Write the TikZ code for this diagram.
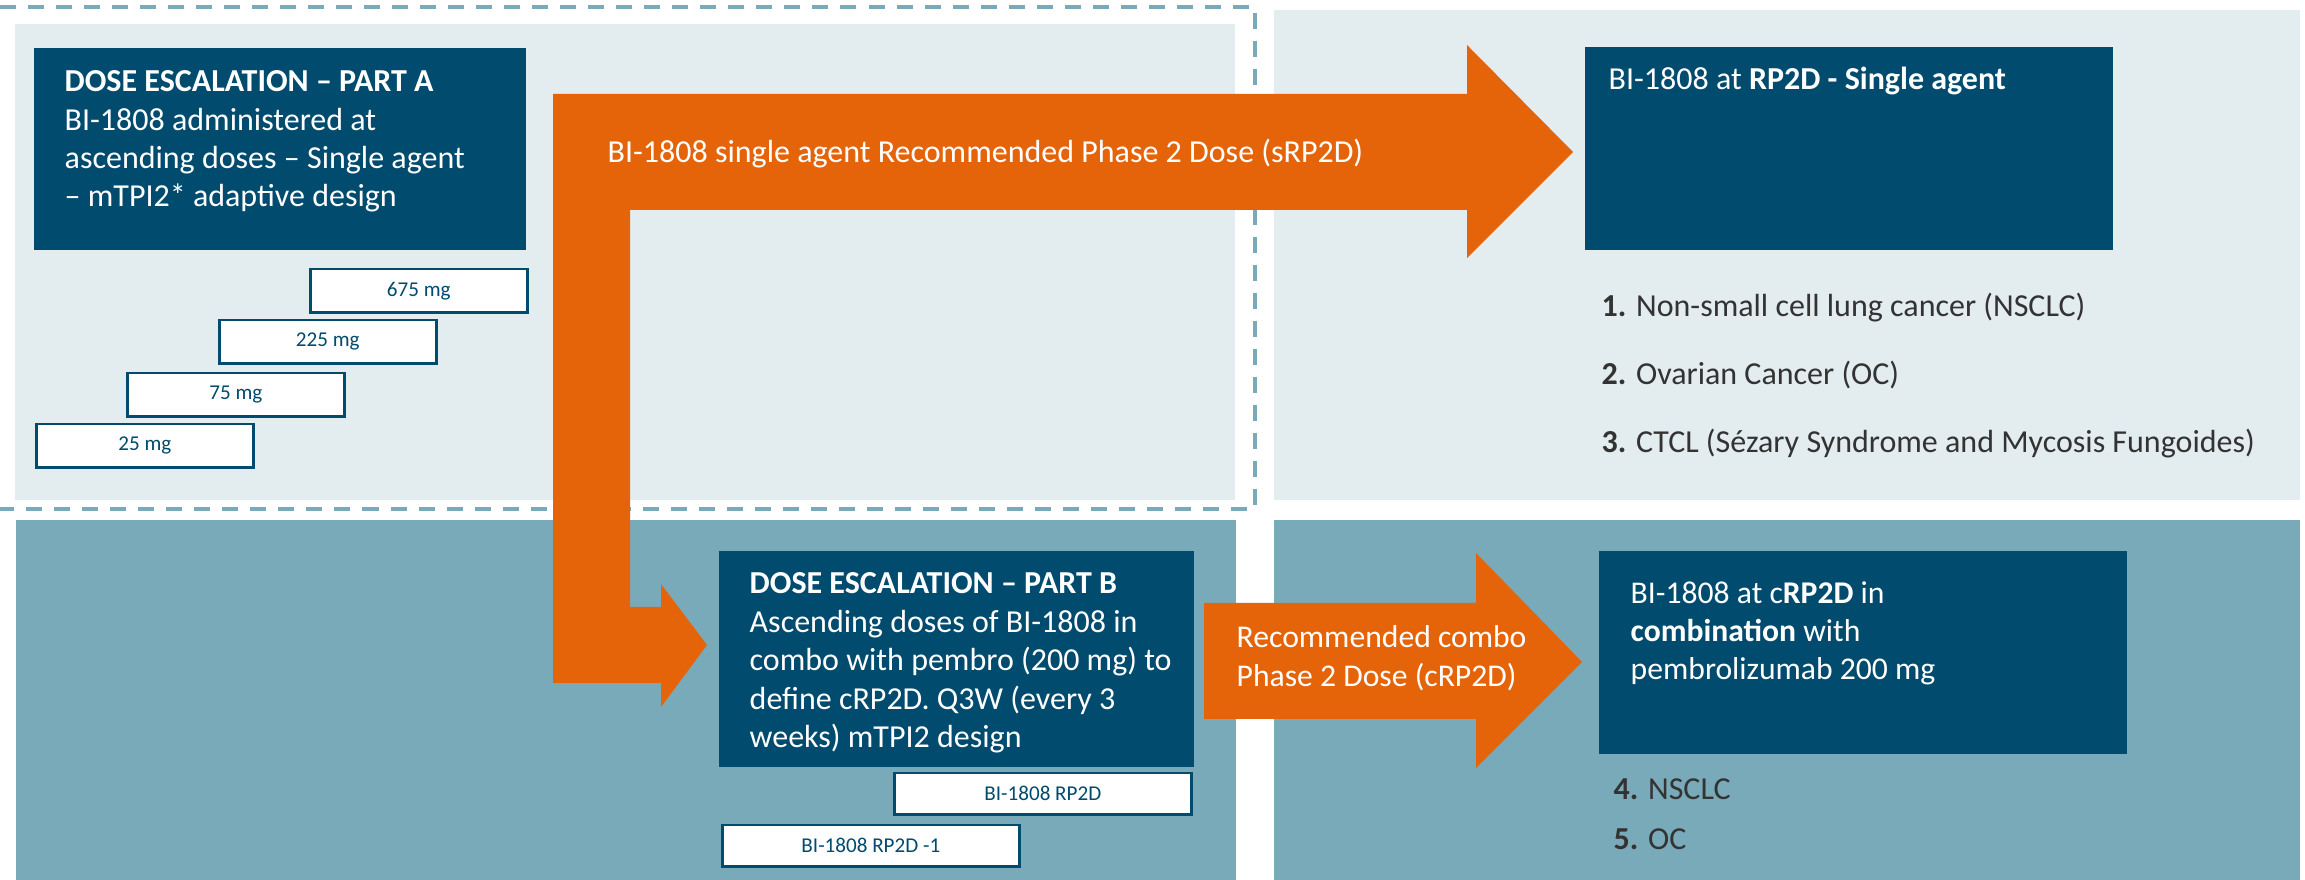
\documentclass[tikz,border=0pt]{standalone}
\usepackage{fontspec}
\setmainfont{Carlito}
\usetikzlibrary{calc}
\definecolor{paneLight}{HTML}{E3ECEF}
\definecolor{paneTeal}{HTML}{78AAB9}
\definecolor{boxBlue}{HTML}{004B6E}
\definecolor{arrOrange}{HTML}{E5640A}
\definecolor{listGrey}{HTML}{333333}
\tikzset{
	darkbox/.style={fill=boxBlue, draw=none, anchor=north west, inner sep=0},
	dosebox/.style={draw=boxBlue, fill=white, line width=0.025cm, anchor=north west, inner sep=0, text=boxBlue, font=\fontsize{6}{7}\selectfont},
	boxtext/.style={anchor=base west, inner sep=0, align=left, text=white, font=\fontsize{9.1}{10.9}\selectfont},
	listtext/.style={anchor=base west, inner sep=0, text=listGrey, font=\fontsize{9.1}{10.9}\selectfont},
}

\begin{document}
\begin{tikzpicture}[x=0.01cm, y=-0.01cm]
		%%%%% START %%%%%
		\useasboundingbox (0,0) rectangle (2305,880);
		
		\fill[paneLight] (15,24) rectangle (1235,500);
		\fill[paneLight] (1274,10) rectangle (2300,500);
		\fill[paneTeal] (16,520) rectangle (1236,880);
		\fill[paneTeal] (1274,520) rectangle (2300,880);
		\draw[paneTeal, line width=0.04cm, dash pattern=on 0.16cm off 0.12cm] (0,7) -- (1255,7) -- (1255,509) -- (0,509);
		
		\fill[arrOrange] (553,94) -- (1467,94) -- (1467,45) -- (1573,152) -- (1467,258) -- (1467,210) -- (630,210) -- (630,607) -- (661,607) -- (661,584) -- (707,645) -- (661,707) -- (661,683) -- (553,683) -- cycle;
		\fill[arrOrange] (1204,603) -- (1476,603) -- (1476,553) -- (1582,662) -- (1476,768) -- (1476,719) -- (1204,719) -- cycle;
		
		% multi-line texts sit on the baseline of their last line
		\node[darkbox, minimum width=4.92cm, minimum height=2.02cm] (partA) at (33,47) {};
		\node[boxtext] (partAtxt) at (64,207) {\textbf{DOSE ESCALATION – PART A}\\BI-1808 administered at\\ascending doses – Single agent\\– mTPI2* adaptive design};
		
		\node[dosebox, minimum width=2.17cm, minimum height=0.43cm] (d675) at (309,268) {675 mg};
		\node[dosebox, minimum width=2.17cm, minimum height=0.43cm] (d225) at (218,319) {225 mg};
		\node[dosebox, minimum width=2.17cm, minimum height=0.43cm] (d75) at (126,372) {75 mg};
		\node[dosebox, minimum width=2.17cm, minimum height=0.43cm] (d25) at (35,423) {25 mg};
		
		\node[boxtext] (sRP2Dtxt) at (607,163) {BI-1808 single agent Recommended Phase 2 Dose (sRP2D)};
		
		\node[darkbox, minimum width=5.28cm, minimum height=2.03cm] (singleRP2D) at (1584,46) {};
		\node[boxtext] (singleTxt) at (1608,90) {BI-1808 at \textbf{RP2D - Single agent}};
		
		\node[listtext] (ind1) at (1601,317) {\textbf{1.} Non-small cell lung cancer (NSCLC)};
		\node[listtext] (ind2) at (1601,385) {\textbf{2.} Ovarian Cancer (OC)};
		\node[listtext] (ind3) at (1601,453) {\textbf{3.} CTCL (Sézary Syndrome and Mycosis Fungoides)};
		
		\node[darkbox, minimum width=4.75cm, minimum height=2.16cm] (partB) at (718,550) {};
		\node[boxtext, font=\fontsize{9.1}{10.95}\selectfont] (partBtxt) at (749,748) {\textbf{DOSE ESCALATION – PART B}\\Ascending doses of BI-1808 in\\combo with pembro (200 mg) to\\define cRP2D. Q3W (every 3\\weeks) mTPI2 design};
		
		\node[dosebox, minimum width=2.97cm, minimum height=0.41cm] (rp2d) at (893,772) {BI-1808 RP2D};
		\node[dosebox, minimum width=2.97cm, minimum height=0.41cm] (rp2dm) at (721,824) {BI-1808 RP2D -1};
		
		\node[boxtext, font=\fontsize{9}{11.1}\selectfont] (cRP2Dtxt) at (1236,687) {Recommended combo\\Phase 2 Dose (cRP2D)};
		
		\node[darkbox, minimum width=5.28cm, minimum height=2.03cm] (comboRP2D) at (1598,550) {};
		\node[boxtext, font=\fontsize{9}{10.9}\selectfont] (comboTxt) at (1630,680) {BI-1808 at c\textbf{RP2D} in\\\textbf{combination} with\\pembrolizumab 200 mg};
		
		\node[listtext] (ind4) at (1613,800) {\textbf{4.} NSCLC};
		\node[listtext] (ind5) at (1613,850) {\textbf{5.} OC};
		%%%%% END %%%%%
\end{tikzpicture}
\end{document}
